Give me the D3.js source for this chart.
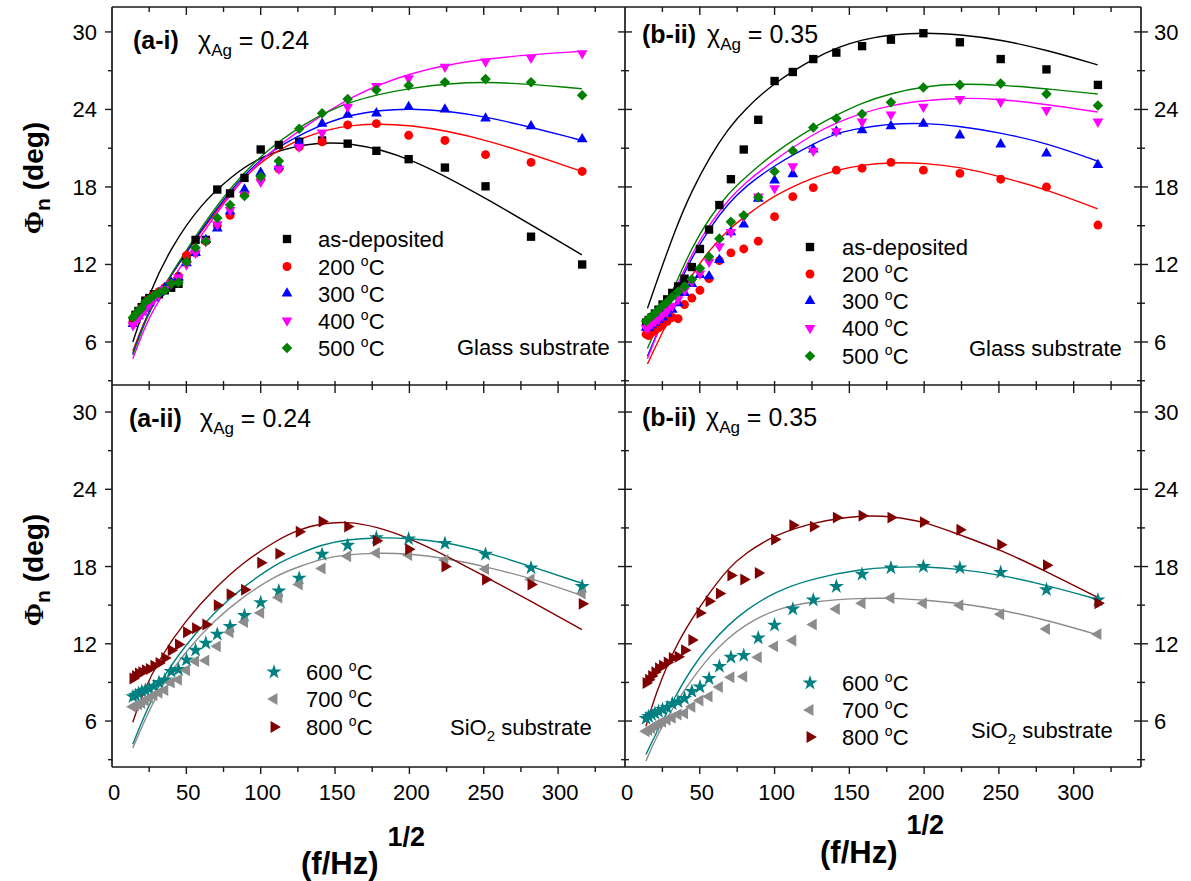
<!DOCTYPE html>
<html><head><meta charset="utf-8">
<script src="https://cdn.jsdelivr.net/npm/d3@7"></script>
<style>
body{margin:0;background:#fff}
svg{display:block}
text{font-family:"Liberation Sans",Arial,Helvetica,sans-serif;fill:#000}
</style>
</head><body>
<svg id="chart" width="1191" height="881"></svg>
<script>
// sqrt(f/Hz) of the measured frequencies (shared by every sample)
const fSqrt = [14.1, 15.8, 17.8, 20.0, 22.4, 25.1, 28.2, 31.6, 35.5, 39.8, 44.7, 50.1, 56.2, 63.1, 70.8, 79.4, 89.1, 100, 112.2, 125.9, 141.3, 158.5, 177.8, 199.5, 223.9, 251.2, 281.8, 316.2];

// (a-i) glass substrate, x_Ag = 0.24 : measured phase angle (deg)
const aiAsDep = [7.6, 8.1, 8.4, 8.7, 9.2, 9.4, 9.7, 9.7, 10.0, 10.2, 10.5, 12.5, 13.9, 13.9, 17.8, 17.5, 18.7, 20.9, 21.25, 21.5, 21.6, 21.35, 20.8, 20.15, 19.5, 18.05, 14.15, 12.0];
const aiT200 = [7.5, 7.8, 8.2, 8.6, 9.0, 9.3, 9.6, 9.9, 10.2, 10.6, 11.1, 12.7, 12.9, 13.8, 15.0, 15.8, 17.4, 18.6, 19.4, 21.1, 21.5, 22.8, 22.9, 22.0, 21.6, 20.5, 19.9, 19.2];
const aiT300 = [7.4, 7.7, 8.0, 8.3, 8.6, 9.0, 9.4, 9.8, 10.2, 10.6, 11.0, 12.1, 12.9, 13.9, 14.8, 16.1, 17.8, 19.1, 19.6, 21.4, 22.9, 23.6, 23.7, 24.2, 24.0, 23.3, 22.7, 21.7];
const aiT400 = [7.3, 7.6, 7.9, 8.2, 8.5, 8.9, 9.3, 9.7, 10.1, 10.5, 11.0, 12.0, 12.9, 13.8, 15.1, 16.2, 17.4, 18.4, 19.4, 21.1, 22.2, 24.2, 25.8, 26.4, 27.3, 27.7, 28.0, 28.35];
const aiT500 = [7.9, 8.1, 8.4, 8.6, 9.1, 9.3, 9.6, 9.8, 10.0, 10.5, 10.6, 12.2, 13.3, 13.8, 15.6, 16.6, 17.3, 18.8, 20.0, 22.5, 23.7, 24.8, 25.5, 25.85, 26.1, 26.35, 26.1, 25.1];
// (a-i) fitted curves
const aiFitX = [14, 25, 40, 60, 80, 100, 130, 160, 200, 250, 316];
const aiFitAsDep = [6.0, 9.8, 13.4, 16.7, 18.8, 20.4, 21.4, 21.5, 20.35, 17.25, 12.75];
const aiFit200 = [5.3, 8.6, 11.2, 14.6, 17.6, 20.1, 22.0, 22.9, 22.9, 21.8, 19.2];
const aiFit300 = [5.1, 8.6, 11.2, 14.7, 17.8, 20.3, 22.3, 23.7, 24.2, 23.6, 21.6];
const aiFit400 = [4.7, 8.1, 10.7, 14.3, 17.5, 20.2, 22.7, 25.0, 26.9, 28.0, 28.5];
const aiFit500 = [5.0, 8.5, 11.3, 14.9, 18.0, 20.5, 23.0, 24.7, 25.7, 26.3, 25.6];

// (b-i) glass substrate, x_Ag = 0.35
const biAsDep = [7.5, 7.7, 7.9, 8.2, 8.5, 8.9, 9.3, 9.8, 10.3, 10.9, 11.8, 13.2, 14.7, 16.6, 18.6, 20.9, 23.2, 26.2, 26.9, 27.9, 28.4, 28.9, 29.4, 29.9, 29.2, 27.9, 27.1, 25.9];
const biT200 = [6.6, 6.5, 6.7, 6.9, 7.1, 7.3, 7.6, 7.9, 7.8, 8.9, 9.4, 10.0, 10.9, 12.3, 12.9, 13.2, 13.8, 15.7, 17.25, 17.95, 19.3, 19.45, 19.9, 19.3, 19.05, 18.6, 18.0, 15.05];
const biT300 = [7.1, 7.1, 7.3, 7.5, 7.7, 7.9, 8.2, 8.5, 9.0, 9.8, 10.5, 11.2, 11.1, 12.35, 14.5, 15.1, 17.1, 18.5, 19.0, 20.9, 22.3, 22.4, 22.7, 22.9, 22.0, 21.3, 20.6, 19.7];
const biT400 = [7.1, 7.2, 7.4, 7.6, 7.8, 8.1, 8.4, 8.8, 9.3, 10.0, 10.7, 11.3, 12.2, 13.4, 14.5, 15.7, 17.25, 17.9, 19.6, 20.8, 22.3, 23.05, 23.6, 24.2, 24.8, 24.6, 23.95, 23.05];
const biT500 = [7.6, 7.8, 8.0, 8.2, 8.5, 8.8, 9.1, 9.5, 9.9, 10.3, 10.85, 11.7, 12.6, 14.0, 15.3, 15.8, 17.2, 19.2, 20.8, 22.6, 23.3, 23.65, 24.55, 25.7, 25.9, 26.0, 25.2, 24.3];
const biFitX = [15, 33, 45, 57, 69, 80, 100, 127, 142, 158, 178, 200, 224, 251, 282, 316];
const biFitAsDep = [8.6, 14.6, 17.8, 20.4, 22.5, 24.0, 26.1, 28.0, 28.8, 29.4, 29.8, 29.95, 29.8, 29.4, 28.6, 27.45];
const biFit200 = [4.3, 8.7, 11.3, 13.2, 14.7, 15.7, 17.4, 18.8, 19.3, 19.7, 19.9, 19.85, 19.55, 18.8, 17.8, 16.3];
const biFit300 = [4.9, 9.8, 12.6, 14.9, 16.7, 18.0, 19.7, 21.4, 22.2, 22.55, 22.9, 22.95, 22.7, 22.2, 21.4, 20.0];
const biFit400 = [4.7, 10.0, 12.9, 15.2, 17.0, 18.3, 20.1, 22.2, 23.0, 23.7, 24.35, 24.7, 24.9, 24.8, 24.4, 23.8];
const biFit500 = [5.5, 10.3, 13.4, 15.7, 17.5, 18.7, 20.7, 22.7, 23.6, 24.5, 25.25, 25.8, 26.0, 25.9, 25.6, 25.2];

// (a-ii) SiO2 substrate, x_Ag = 0.24
const aiiT600 = [7.9, 8.0, 8.15, 8.3, 8.4, 8.5, 8.7, 9.0, 9.2, 9.85, 10.0, 10.75, 11.5, 12.05, 12.75, 13.35, 14.2, 15.2, 16.1, 17.1, 18.95, 19.65, 20.25, 20.15, 19.8, 18.95, 17.9, 16.45];
const aiiT700 = [7.1, 7.2, 7.3, 7.4, 7.6, 7.8, 8.0, 8.2, 8.4, 9.0, 9.2, 9.95, 10.65, 10.7, 11.8, 12.9, 13.7, 14.4, 15.6, 16.6, 17.85, 18.8, 19.05, 18.9, 18.5, 17.8, 17.0, 15.9];
const aiiT800 = [9.3, 9.5, 9.7, 9.8, 9.95, 10.05, 10.3, 10.5, 10.9, 11.5, 11.95, 12.9, 13.2, 13.5, 15.0, 15.85, 16.2, 18.3, 19.0, 20.7, 21.5, 21.1, 20.0, 19.35, 18.0, 17.0, 16.6, 15.1];
const aiiFitX = [14, 20, 32, 50, 69, 88, 110, 126, 141, 158, 178, 200, 224, 251, 282, 316];
const aiiFit600 = [4.2, 5.95, 9.05, 12.0, 14.5, 16.4, 18.2, 19.0, 19.7, 20.1, 20.25, 20.2, 19.9, 19.15, 18.0, 16.7];
const aiiFit700 = [3.9, 5.55, 8.55, 11.5, 13.85, 15.65, 17.3, 18.0, 18.6, 18.95, 19.05, 19.0, 18.65, 18.0, 17.1, 15.75];
const aiiFit800 = [5.9, 8.0, 10.9, 13.9, 16.3, 18.3, 20.0, 20.9, 21.35, 21.5, 21.1, 20.2, 18.9, 17.2, 15.3, 13.1];

// (b-ii) SiO2 substrate, x_Ag = 0.35
const biiT600 = [6.2, 6.35, 6.5, 6.6, 6.75, 6.9, 7.05, 7.35, 7.5, 7.75, 8.3, 8.65, 9.3, 10.25, 10.95, 11.1, 12.45, 13.45, 14.7, 15.4, 16.45, 17.4, 17.9, 18.0, 17.9, 17.55, 16.2, 15.4];
const biiT700 = [5.2, 5.3, 5.45, 5.6, 5.8, 5.95, 6.1, 6.25, 6.5, 6.6, 7.1, 7.6, 7.9, 8.65, 9.4, 9.45, 10.95, 11.8, 12.25, 13.5, 14.7, 15.15, 15.55, 15.15, 15.0, 14.3, 13.15, 12.75];
const biiT800 = [8.95, 9.2, 9.5, 9.8, 10.1, 10.3, 10.55, 10.9, 11.0, 11.5, 12.3, 14.4, 15.3, 15.9, 17.3, 17.0, 17.5, 20.1, 21.2, 21.1, 21.8, 21.95, 21.8, 21.45, 20.85, 19.7, 18.1, 15.15];
const biiFitX = [14, 21, 33, 45, 57, 69, 80, 100, 126, 158, 178, 200, 224, 251, 282, 316];
const biiFit600 = [3.4, 5.1, 7.8, 10.2, 12.0, 13.45, 14.55, 16.05, 17.1, 17.8, 17.95, 18.0, 17.8, 17.35, 16.55, 15.45];
const biiFit700 = [2.9, 4.8, 7.25, 9.3, 11.1, 12.45, 13.45, 14.7, 15.3, 15.55, 15.55, 15.4, 15.15, 14.65, 13.85, 12.7];
const biiFit800 = [5.6, 8.3, 11.65, 14.0, 16.05, 17.85, 19.0, 20.45, 21.45, 22.0, 21.9, 21.5, 20.45, 19.3, 17.6, 15.6];

// axis tick values
const xTickLabels = [0, 50, 100, 150, 200, 250, 300];
const yTickLabels = [6, 12, 18, 24, 30];

const svg = d3.select("#chart");

// scales
const xL = d3.scaleLinear().domain([0, 345]).range([112, 625]);
const xR = d3.scaleLinear().domain([0, 345]).range([625, 1141]);
const yTop = d3.scaleLinear().domain([2.67, 31.93]).range([385, 7]);
const yBot = d3.scaleLinear().domain([2.43, 32.1]).range([767, 385]);

// marker shapes
const shapes = {
  square:  {type: d3.symbolSquare, size: 70, rot: 0},
  circle:  {type: d3.symbolCircle, size: 62, rot: 0},
  triUp:   {type: d3.symbolTriangle, size: 50, rot: 0},
  triDown: {type: d3.symbolTriangle, size: 50, rot: 180},
  diamond: {type: d3.symbolSquare, size: 56, rot: 45},
  star:    {type: d3.symbolStar, size: 70, rot: 0},
  triLeft: {type: d3.symbolTriangle, size: 62, rot: -90},
  triRight:{type: d3.symbolTriangle, size: 62, rot: 90}
};

const panels = [
  {key: "ai", x: xL, y: yTop, tag: "(a-i)", tagX: 133, tagY: 49, chiX: 198, chiVal: "0.24",
   fitX: aiFitX, legend: {mx: 287, tx: 318, rows: [239, 266.5, 293.5, 320.5, 348]},
   note: {pre: "Glass substrate", x: 457, y: 355},
   series: [
     {name: "as-deposited", color: "#000000", shape: "square", vals: aiAsDep, fit: aiFitAsDep},
     {name: "200", color: "#ff0000", shape: "circle", vals: aiT200, fit: aiFit200},
     {name: "300", color: "#0000ff", shape: "triUp", vals: aiT300, fit: aiFit300},
     {name: "400", color: "#ff00ff", shape: "triDown", vals: aiT400, fit: aiFit400},
     {name: "500", color: "#008000", shape: "diamond", vals: aiT500, fit: aiFit500}
   ]},
  {key: "bi", x: xR, y: yTop, tag: "(b-ii)", tagX: 642, tagY: 43, chiX: 707, chiVal: "0.35",
   fitX: biFitX, legend: {mx: 810, tx: 842, rows: [247, 274, 301, 328, 356]},
   note: {pre: "Glass substrate", x: 969, y: 356},
   series: [
     {name: "as-deposited", color: "#000000", shape: "square", vals: biAsDep, fit: biFitAsDep},
     {name: "200", color: "#ff0000", shape: "circle", vals: biT200, fit: biFit200},
     {name: "300", color: "#0000ff", shape: "triUp", vals: biT300, fit: biFit300},
     {name: "400", color: "#ff00ff", shape: "triDown", vals: biT400, fit: biFit400},
     {name: "500", color: "#008000", shape: "diamond", vals: biT500, fit: biFit500}
   ]},
  {key: "aii", x: xL, y: yBot, tag: "(a-ii)", tagX: 129, tagY: 427, chiX: 200, chiVal: "0.24",
   fitX: aiiFitX, legend: {mx: 274, tx: 306, rows: [672, 699, 727]},
   note: {pre: "SiO", sub: "2", post: " substrate", x: 450, y: 735},
   series: [
     {name: "600", color: "#008080", shape: "star", vals: aiiT600, fit: aiiFit600},
     {name: "700", color: "#8c8c8c", shape: "triLeft", vals: aiiT700, fit: aiiFit700},
     {name: "800", color: "#800000", shape: "triRight", vals: aiiT800, fit: aiiFit800}
   ]},
  {key: "bii", x: xR, y: yBot, tag: "(b-ii)", tagX: 642, tagY: 426, chiX: 706, chiVal: "0.35",
   fitX: biiFitX, legend: {mx: 810, tx: 842, rows: [683, 710, 737]},
   note: {pre: "SiO", sub: "2", post: " substrate", x: 971, y: 738},
   series: [
     {name: "600", color: "#008080", shape: "star", vals: biiT600, fit: biiFit600},
     {name: "700", color: "#8c8c8c", shape: "triLeft", vals: biiT700, fit: biiFit700},
     {name: "800", color: "#800000", shape: "triRight", vals: biiT800, fit: biiFit800}
   ]}
];

function symbolPath(shape) {
  const s = shapes[shape];
  return d3.symbol().type(s.type).size(s.size)();
}

function addSeriesLabel(sel, name) {
  if (name === "as-deposited") { sel.text(name); return; }
  sel.append("tspan").text(name + " ");
  sel.append("tspan").attr("font-size", 14).attr("dy", -9).text("o");
  sel.append("tspan").attr("dy", 9).text("C");
}

panels.forEach(p => {
  const [x0, x1] = p.x.range();
  const [y0, y1] = p.y.range();
  const g = svg.append("g").attr("class", "panel-" + p.key);
  const clipId = "clip-" + p.key;
  svg.append("clipPath").attr("id", clipId)
    .append("rect").attr("x", x0).attr("y", y1).attr("width", x1 - x0).attr("height", y0 - y1);

  // fitted curves
  const line = d3.line()
    .x((d, i) => p.x(p.fitX[i]))
    .y(d => p.y(d))
    .curve(d3.curveBasis);
  const curves = g.append("g").attr("clip-path", `url(#${clipId})`);
  p.series.forEach(s => {
    curves.append("path").attr("d", line(s.fit))
      .attr("fill", "none").attr("stroke", s.color).attr("stroke-width", 1.4);
  });

  // data markers
  const marks = g.append("g").attr("clip-path", `url(#${clipId})`);
  p.series.forEach(s => {
    const path = symbolPath(s.shape);
    const rot = shapes[s.shape].rot;
    marks.append("g").selectAll("path").data(s.vals).join("path")
      .attr("d", path)
      .attr("transform", (d, i) => `translate(${p.x(fSqrt[i])},${p.y(d)}) rotate(${rot})`)
      .attr("fill", s.color);
  });

  // legend
  p.series.forEach((s, i) => {
    const cy = p.legend.rows[i];
    g.append("path").attr("d", symbolPath(s.shape))
      .attr("transform", `translate(${p.legend.mx},${cy}) rotate(${shapes[s.shape].rot})`)
      .attr("fill", s.color);
    const t = g.append("text").attr("x", p.legend.tx).attr("y", cy + 8).attr("font-size", 22);
    addSeriesLabel(t, s.name);
  });

  // substrate note
  const nt = g.append("text").attr("x", p.note.x).attr("y", p.note.y).attr("font-size", 22);
  nt.append("tspan").text(p.note.pre);
  if (p.note.sub) {
    nt.append("tspan").attr("font-size", 15).attr("dy", 6).text(p.note.sub);
    nt.append("tspan").attr("dy", -6).text(p.note.post);
  }

  // panel tag and composition
  g.append("text").attr("x", p.tagX).attr("y", p.tagY)
    .attr("font-size", 25).attr("font-weight", "bold").text(p.tag);
  const ct = g.append("text").attr("x", p.chiX).attr("y", p.tagY).attr("font-size", 25);
  ct.append("tspan").text("χ");
  ct.append("tspan").attr("font-size", 17).attr("dy", 7).text("Ag");
  ct.append("tspan").attr("dy", -7).text(" = " + p.chiVal);
});

// frame lines
const frame = svg.append("g").attr("stroke", "#1a1a1a").attr("fill", "none");
[[112, 7, 112, 767], [625, 7, 625, 767], [1141, 7, 1141, 767],
 [112, 7, 1141, 7], [112, 385, 1141, 385], [112, 767, 1141, 767]].forEach(l => {
  frame.append("line").attr("x1", l[0]).attr("y1", l[1]).attr("x2", l[2]).attr("y2", l[3])
    .attr("stroke-width", 1.7);
});

// x ticks (every 25, labelled every 50)
const ticks = svg.append("g").attr("stroke", "#1a1a1a").attr("stroke-width", 1.4);
const xMinor = d3.range(25, 345, 25);
[xL, xR].forEach(xs => {
  xMinor.forEach(v => {
    const major = v % 50 === 0;
    const px = xs(v);
    ticks.append("line").attr("x1", px).attr("x2", px).attr("y1", 7).attr("y2", major ? 15 : 12);
    ticks.append("line").attr("x1", px).attr("x2", px).attr("y1", 381).attr("y2", major ? 393 : 390);
    ticks.append("line").attr("x1", px).attr("x2", px).attr("y1", 767).attr("y2", major ? 774 : 772);
  });
  xTickLabels.forEach(v => {
    svg.append("text").attr("x", xs(v) + 2).attr("y", 800).attr("font-size", 22)
      .attr("text-anchor", "middle").text(v);
  });
});

// y ticks (every 3, labelled every 6)
const yMinor = d3.range(3, 31, 3);
[yTop, yBot].forEach(ys => {
  yMinor.forEach(v => {
    const major = v % 6 === 0;
    const py = ys(v);
    const len = major ? 7 : 4;
    ticks.append("line").attr("x1", 112 - len).attr("x2", 112).attr("y1", py).attr("y2", py);
    ticks.append("line").attr("x1", 625 - len).attr("x2", 625 + len).attr("y1", py).attr("y2", py);
    ticks.append("line").attr("x1", 1141 - len).attr("x2", 1141 + len).attr("y1", py).attr("y2", py);
  });
  yTickLabels.forEach(v => {
    svg.append("text").attr("x", 97).attr("y", ys(v) + 8).attr("font-size", 22)
      .attr("text-anchor", "end").text(v);
    svg.append("text").attr("x", 1154).attr("y", ys(v) + 8).attr("font-size", 22)
      .attr("text-anchor", "start").text(v);
  });
});

// axis titles
function xTitle(x, y, supDy) {
  const t = svg.append("text").attr("x", x).attr("y", y)
    .attr("font-weight", "bold").attr("font-size", 31);
  t.append("tspan").text("(f/Hz)");
  t.append("tspan").attr("font-size", 27).attr("dx", 9).attr("dy", supDy).text("1/2");
}
xTitle(301, 874, -28);
xTitle(820, 863, -29);

function yTitle(cy) {
  const t = svg.append("text").attr("transform", `translate(43,${cy}) rotate(-90)`)
    .attr("text-anchor", "middle").attr("font-weight", "bold").attr("font-size", 28);
  t.append("tspan").attr("font-family", "Liberation Serif, serif").text("Φ");
  t.append("tspan").attr("font-size", 21).attr("dy", 7).text("n");
  t.append("tspan").attr("dy", -7).text(" (deg)");
}
yTitle(178);
yTitle(570);
</script>
</body></html>
